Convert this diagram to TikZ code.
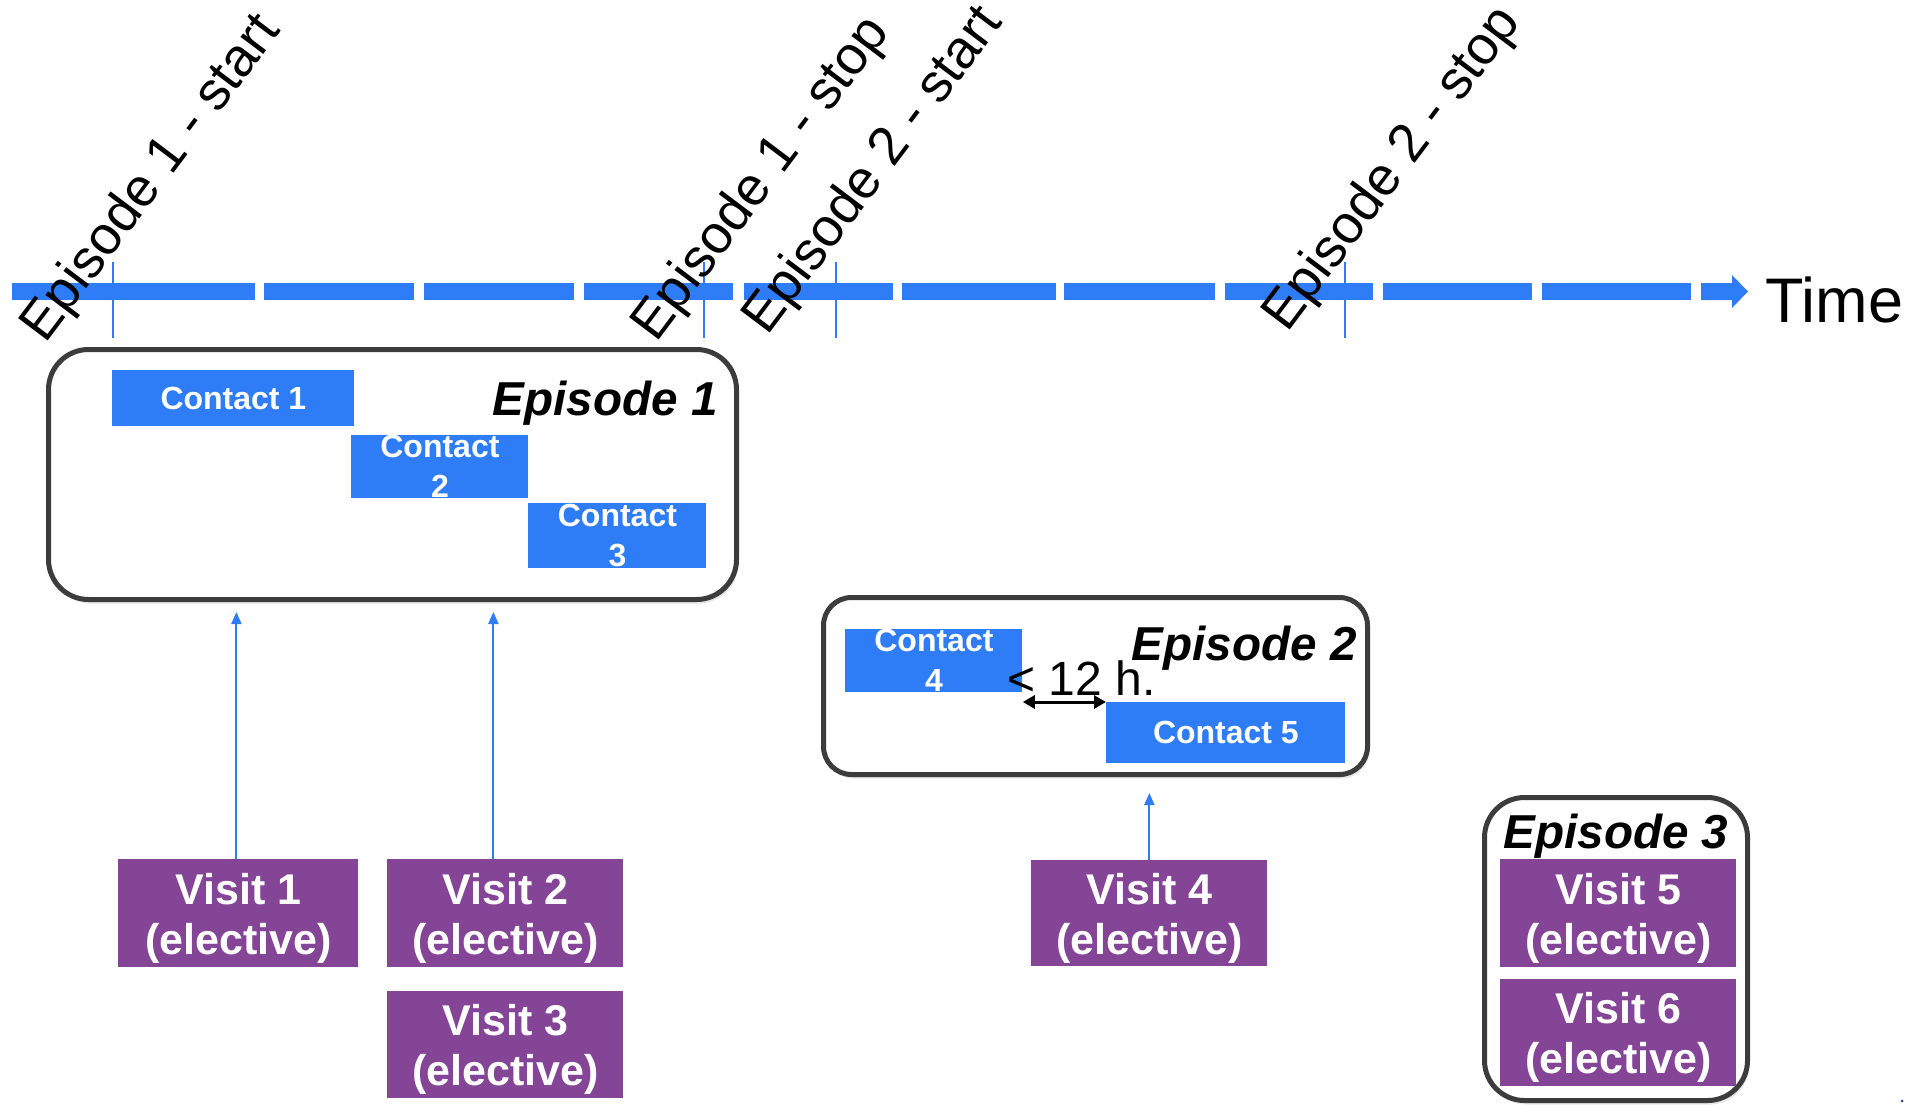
\documentclass[tikz,border=0pt]{standalone}
\usepackage{fontspec}
\setmainfont{Liberation Sans}
\usetikzlibrary{arrows.meta,shadows}
\definecolor{tblue}{RGB}{46,125,246}
\definecolor{vpurple}{RGB}{132,69,151}
\definecolor{edgegray}{RGB}{60,60,60}
\newcommand{\vstrut}{\rule{0pt}{20.5pt}}
\tikzset{
  cbox/.style={fill=tblue, text=white, font=\fontsize{16}{20}\selectfont\bfseries, inner sep=0pt, anchor=north west, align=center},
  vbox/.style={fill=vpurple, text=white, font=\fontsize{21.5}{25}\selectfont\bfseries, inner sep=0pt, anchor=north west, align=center},
  epbox/.style={draw=edgegray, line width=2.5pt, fill=white, anchor=north west, inner sep=0pt,
    drop shadow={shadow xshift=1pt, shadow yshift=-2pt, opacity=0.2}},
  eplabel/.style={font=\fontsize{23.8}{28}\selectfont\bfseries\itshape, inner sep=0pt},
  ticklab/.style={font=\fontsize{27}{32}\selectfont, rotate=53, anchor=base west, inner sep=0pt},
  tickline/.style={draw=tblue, line width=0.6pt},
  varrow/.style={draw=tblue, line width=1pt, -{Triangle[width=5pt,length=6pt]}},
  barseg/.style={fill=tblue},
}
\begin{document}
\begin{tikzpicture}[x=0.5pt,y=-0.5pt]
\useasboundingbox (0,0) rectangle (1918,1104);

% time bar
\foreach \a/\b in {12/255,264/414,424/574,584/733,744/893,902/1056,1064/1215,1225/1373,1383/1532,1542/1691}
  \fill[barseg] (\a,283) rectangle (\b,300);
\fill[barseg] (1701,283) -- (1732,283) -- (1732,275) -- (1748,291.5) -- (1732,308) -- (1732,300) -- (1701,300) -- cycle;
\node[font=\fontsize{31.5}{36}\selectfont, anchor=base west, inner sep=0pt] (time) at (1765,322) {Time};

% tick marks
\coordinate (t1) at (113,262);
\coordinate (t2) at (704,262);
\coordinate (t3) at (836,262);
\coordinate (t4) at (1345,262);
\foreach \t in {t1,t2,t3,t4}
  \draw[tickline] (\t) -- ++(0,76);

% rotated labels
\node[ticklab] (l1) at (45,345) {Episode 1 - start};
\node[ticklab] (l2) at (656,344) {Episode 1 - stop};
\node[ticklab] (l3) at (767,337) {Episode 2 - start};
\node[ticklab] (l4) at (1287,334) {Episode 2 - stop};

% Episode 1
\node[epbox, rounded corners=20pt, minimum width=344pt, minimum height=125pt] (ep1) at (46,347) {};
\node[eplabel, anchor=base east] (ep1lab) at (718,415) {Episode 1};
\node[cbox, minimum width=121pt, minimum height=28pt] (c1) at (112,370) {Contact 1};
\node[cbox, minimum width=88.5pt, minimum height=31pt] (c2) at (351,435) {Contact\\2};
\node[cbox, minimum width=89pt, minimum height=32.5pt] (c3) at (528,503) {Contact\\3};

% Episode 2
\node[epbox, rounded corners=14pt, minimum width=272pt, minimum height=88.5pt] (ep2) at (821,595) {};
\node[eplabel, anchor=base east] (ep2lab) at (1357,660) {Episode 2};
\node[cbox, minimum width=88.5pt, minimum height=31pt] (c4) at (845,629) {Contact\\4};
\node[cbox, minimum width=119.5pt, minimum height=30.5pt] (c5) at (1106,702) {Contact 5};
\node[font=\fontsize{24}{28}\selectfont, anchor=base west, inner sep=0pt] (lt12) at (1007,695) {< 12 h.};
\draw[line width=1.5pt, {Triangle[width=6.5pt,length=6pt]}-{Triangle[width=6.5pt,length=6pt]}]
  (c4.east |- c5.north) -- (c5.north west);

% Episode 3
\node[epbox, rounded corners=20pt, minimum width=131.5pt, minimum height=151.5pt] (ep3) at (1482,795) {};
\node[eplabel, anchor=base] (ep3lab) at (1616,848) {Episode 3};

% visits
\node[vbox, minimum width=120pt, minimum height=54pt] (v1) at (118,859) {\vstrut Visit 1\\(elective)};
\node[vbox, minimum width=118pt, minimum height=54pt] (v2) at (387,859) {\vstrut Visit 2\\(elective)};
\node[vbox, minimum width=118pt, minimum height=53.5pt] (v3) at (387,991) {\vstrut Visit 3\\(elective)};
\node[vbox, minimum width=118pt, minimum height=53pt] (v4) at (1031,860) {\vstrut Visit 4\\(elective)};
\node[vbox, minimum width=118pt, minimum height=54pt] (v5) at (1500,859) {\vstrut Visit 5\\(elective)};
\node[vbox, minimum width=118pt, minimum height=53.5pt] (v6) at (1500,979) {\vstrut Visit 6\\(elective)};

% arrows
\draw[varrow, shorten >=5pt] ([xshift=-1pt]v1.north) -- ([xshift=-1pt]v1.north |- ep1.south);
\draw[varrow, shorten >=5pt] ([xshift=-6pt]v2.north) -- ([xshift=-6pt]v2.north |- ep1.south);
\draw[varrow, shorten >=8pt] (v4.north) -- (v4.north |- ep2.south);

% small mark
\fill[tblue!60!black] (1902,1101) circle (1.5);
\end{tikzpicture}
\end{document}
